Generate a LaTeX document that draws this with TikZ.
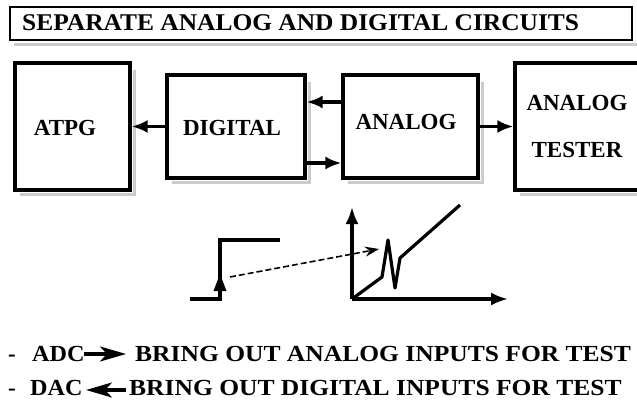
\documentclass[tikz,border=0pt]{standalone}
\usepackage{fontspec}
\setmainfont{Liberation Serif}
\usetikzlibrary{arrows.meta}
\begin{document}
\begin{tikzpicture}[x=1pt,y=-1pt,
  box/.style={draw,line width=3.2pt,inner sep=0pt},
  lbl/.style={font=\fontsize{23}{26}\selectfont\bfseries,inner sep=0pt},
  txt/.style={font=\fontsize{23}{26}\selectfont\bfseries,inner sep=0pt,anchor=base west},
  conn/.style={line width=3.2pt,-{Latex[length=16pt,width=13pt]}},
  thick3/.style={line width=3.2pt},
  shade/.style={draw=gray!40,line width=3pt}]
\useasboundingbox (0,0) rectangle (637,409);
% title
\draw[shade] (14,44.5) -- (637,44.5);
\node[draw,line width=2pt,minimum width=622pt,minimum height=33pt,inner sep=0pt] (title) at (321,23.5) {};
\node[txt,font=\fontsize{24}{26}\selectfont\bfseries] (titletext) at (22,31) {\scalebox{1.06}[1]{SEPARATE ANALOG AND DIGITAL CIRCUITS}};
% shadows
\draw[shade] (134.5,70) -- (134.5,194.5) -- (20,194.5);
\draw[shade] (309.5,82) -- (309.5,182.5) -- (172,182.5);
\draw[shade] (482.5,82) -- (482.5,182.5) -- (348,182.5);
\draw[shade] (520,194.5) -- (637,194.5);
% boxes
\node[box,minimum width=115pt,minimum height=127pt] (atpg) at (72.5,126.5) {};
\node[box,minimum width=138pt,minimum height=103pt] (digital) at (236,126.5) {};
\node[box,minimum width=135pt,minimum height=103pt] (analog) at (410.5,126.5) {};
\node[box,minimum width=145pt,minimum height=127pt] (tester) at (587.5,126.5) {};
\node[lbl] (atpgl) at (65,128) {ATPG};
\node[lbl] (digitall) at (232,128) {DIGITAL};
\node[lbl] (analogl) at (406,122) {ANALOG};
\node[lbl] (testerl1) at (577,103) {ANALOG};
\node[lbl] (testerl2) at (577,150) {TESTER};
% connectors
\draw[conn] (digital.west) -- (atpg.east);
\draw[conn] (analog.east) -- (tester.west);
\draw[conn] ([yshift=24.5pt]analog.west) -- ([yshift=24.5pt]digital.east);
\draw[conn] ([yshift=-36.5pt]digital.east) -- ([yshift=-36.5pt]analog.west);
% step waveform
\coordinate (s0) at (190,299);
\coordinate (s1) at (220,299);
\coordinate (s2) at (220,240);
\coordinate (s3) at (280,240);
\draw[thick3,line join=miter] (s0) -- (s1) -- (s2) -- (s3);
\fill (213.5,291) -- (220,274) -- (226.5,291) -- cycle;
% axes
\coordinate (o) at (352,299);
\coordinate (yt) at (352,207);
\coordinate (xt) at (508,299);
\draw[thick3,-{Latex[length=17pt,width=13pt]}] (o) -- (yt);
\draw[thick3,-{Latex[length=17pt,width=13pt]}] (o) -- (xt);
% response curve
\draw[thick3,line join=round] (o) -- (382,277) -- (388,240) -- (395,288) -- (400,258) -- (460,205);
% dashed mapping arrow
\coordinate (da) at (230,277);
\coordinate (db) at (379,249);
\draw[dash pattern=on 6pt off 3pt,line width=1.6pt,-{Stealth[length=14pt,width=10pt]}] (da) -- (db);
% bottom text
\node[txt] (d1) at (8,361) {-};
\node[txt] (adc) at (32,361) {\scalebox{1.05}[1]{ADC}};
\coordinate (a1s) at (84,354);
\coordinate (a1e) at (126,354);
\draw[line width=3.2pt,-{Stealth[length=26pt,width=15pt,inset=7pt]}] (a1s) -- (a1e);
\node[txt] (l1) at (135,361) {\scalebox{1.11}[1]{BRING OUT ANALOG INPUTS FOR TEST}};
\node[txt] (d2) at (8,395) {-};
\node[txt] (dac) at (30,395) {\scalebox{1.05}[1]{DAC}};
\coordinate (a2s) at (126,390);
\coordinate (a2e) at (86,390);
\draw[line width=3.2pt,-{Stealth[length=26pt,width=15pt,inset=7pt]}] (a2s) -- (a2e);
\node[txt] (l2) at (129,395) {\scalebox{1.11}[1]{BRING OUT DIGITAL INPUTS FOR TEST}};
\end{tikzpicture}
\end{document}
